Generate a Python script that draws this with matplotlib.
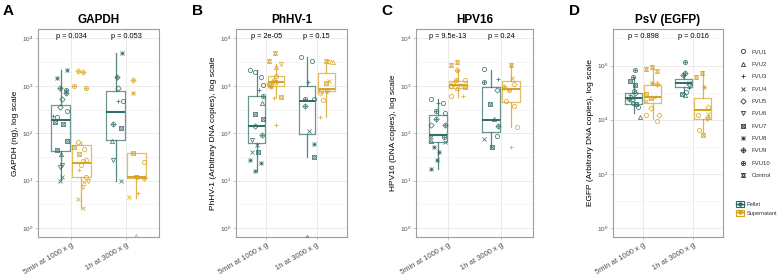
import matplotlib
matplotlib.use("Agg")
import matplotlib.pyplot as plt
from matplotlib.lines import Line2D
from matplotlib.patches import Rectangle
from matplotlib.legend_handler import HandlerTuple
from matplotlib.ticker import FixedLocator, NullFormatter
import matplotlib.transforms as mtransforms

plt.rcParams['font.family'] = ['Liberation Sans', 'DejaVu Sans']

# ---- data ----
categories = ["5min at 1000 x g", "1h at 3000 x g"]
fractions = ["Pellet", "Supernatant"]
samples = ["FVU1", "FVU2", "FVU3", "FVU4", "FVU5", "FVU6", "FVU7",
           "FVU8", "FVU9", "FVU10", "Control"]

# GAPDH (ng)
gapdh_pel_5min = [("FVU8", 2200), ("FVU8", 1500), ("FVU9", 900), ("FVU10", 800), ("FVU9", 700),
                  ("FVU5", 540), ("FVU5", 350), ("FVU1", 300), ("FVU1", 225), ("FVU3", 230),
                  ("FVU7", 170), ("FVU7", 155), ("FVU7", 70), ("FVU7", 44), ("FVU2", 37),
                  ("FVU6", 21), ("FVU6", 19), ("FVU4", 12), ("FVU4", 10)]
gapdh_sup_5min = [("FVU9", 2100), ("FVU9", 2000), ("FVU10", 1000), ("FVU10", 900), ("FVU5", 64),
                  ("FVU7", 52), ("FVU1", 47), ("FVU7", 37), ("FVU5", 27), ("FVU1", 26),
                  ("FVU1", 21), ("FVU3", 17), ("FVU1", 12), ("FVU6", 10), ("FVU4", 9.5),
                  ("FVU6", 7.5), ("FVU4", 4.1), ("FVU4", 2.7)]
gapdh_pel_1h = [("FVU8", 5000), ("FVU9", 1550), ("FVU5", 920), ("FVU1", 470), ("FVU3", 480),
                ("FVU9", 160), ("FVU7", 130), ("FVU2", 67), ("FVU6", 27), ("FVU4", 10)]
gapdh_sup_1h = [("FVU9", 1300), ("FVU8", 710), ("FVU7", 39), ("FVU1", 25), ("FVU1", 12.2),
                ("FVU6", 12), ("FVU9", 11.5), ("FVU3", 5.5), ("FVU4", 4.6), ("FVU2", 0.68)]
# box stats: whisker low, q1, median, q3, whisker high
gapdh_box = [[10.4, 43, 193, 389, 2200], [2.7, 12.2, 23.4, 57, 64],
             [10, 73, 280, 767, 5000], [4.2, 11.4, 11.8, 38, 39]]
gapdh_p = ["p = 0.034", "p = 0.053"]

# PhHV-1
phhv_pel_5min = [("FVU1", 2200), ("FVU1", 1550), ("FVU1", 2000), ("FVU1", 1050), ("FVU3", 800),
                 ("FVU10", 600), ("FVU2", 440), ("FVU7", 250), ("FVU7", 200), ("FVU5", 140),
                 ("FVU9", 93), ("FVU6", 73), ("FVU4", 57), ("FVU4", 41), ("FVU7", 41),
                 ("FVU8", 27), ("FVU8", 24), ("FVU8", 15.6)]
phhv_sup_5min = [("Control", 5000), ("Control", 3300), ("FVU6", 2950), ("FVU2", 2550), ("FVU1", 1650),
                 ("FVU9", 1300), ("FVU10", 1200), ("FVU5", 1100), ("FVU4", 1000), ("FVU8", 950),
                 ("FVU7", 1100), ("FVU3", 560), ("FVU7", 570), ("FVU3", 146)]
phhv_pel_1h = [("FVU1", 4100), ("FVU1", 3400), ("FVU3", 1200), ("FVU1", 530), ("FVU10", 530),
               ("FVU9", 370), ("FVU4", 110), ("FVU8", 59), ("FVU7", 32), ("FVU2", 0.65)]
phhv_sup_1h = [("Control", 3400), ("FVU6", 3200), ("FVU2", 3150), ("FVU4", 1250), ("FVU7", 1170),
               ("FVU1", 770), ("FVU10", 770), ("FVU5", 720), ("FVU1", 510), ("FVU3", 225)]
phhv_box = [[15.6, 62, 144, 600, 2130], [590, 980, 1230, 1650, 2950],
            [32, 98, 490, 1000, 4150], [225, 770, 860, 1880, 3200]]
phhv_p = ["p = 2e-05", "p = 0.15"]

# HPV16
hpv_pel_5min = [("FVU1", 530), ("FVU1", 440), ("FVU3", 440), ("FVU1", 270), ("FVU10", 290),
                ("FVU9", 200), ("FVU9", 150), ("FVU5", 150), ("FVU4", 85), ("FVU10", 85),
                ("FVU2", 70), ("FVU4", 65), ("FVU8", 52), ("FVU8", 41), ("FVU8", 27), ("FVU8", 17.7)]
hpv_sup_5min = [("Control", 3200), ("Control", 2700), ("FVU9", 2200), ("FVU1", 1300), ("FVU10", 1300),
                ("FVU1", 1100), ("FVU4", 1050), ("FVU5", 1000), ("FVU7", 950), ("FVU2", 900),
                ("FVU3", 600), ("FVU1", 600)]
hpv_pel_1h = [("FVU1", 2300), ("FVU3", 1400), ("FVU10", 1230), ("FVU5", 800), ("FVU7", 420),
              ("FVU2", 200), ("FVU9", 140), ("FVU1", 86), ("FVU4", 77), ("FVU7", 50)]
hpv_sup_1h = [("Control", 2800), ("FVU4", 1500), ("FVU5", 1100), ("FVU9", 950), ("FVU10", 800),
              ("FVU1", 470), ("FVU1", 380), ("FVU1", 135), ("FVU3", 52)]
hpv_box = [[17.7, 65, 93, 238, 536], [590, 910, 1060, 1290, 2200],
           [50, 104, 186, 950, 2200], [137, 455, 860, 1250, 2800]]
hpv_p = ["p = 9.5e-13", "p = 0.24"]

# PsV (EGFP)
egfp_pel_5min = [("FVU10", 680000), ("FVU10", 380000), ("FVU7", 260000), ("FVU7", 190000),
                 ("FVU1", 120000), ("FVU5", 95000), ("FVU3", 80000), ("FVU4", 70000),
                 ("FVU9", 60000), ("FVU5", 55000), ("FVU1", 40000), ("FVU7", 38000),
                 ("FVU1", 30000), ("FVU2", 13000)]
egfp_sup_5min = [("Control", 900000), ("Control", 750000), ("Control", 650000), ("FVU8", 220000),
                 ("FVU9", 200000), ("FVU7", 90000), ("FVU4", 70000), ("FVU7", 65000),
                 ("FVU4", 50000), ("FVU5", 27000), ("FVU5", 15000), ("FVU1", 15000), ("FVU1", 9000)]
egfp_pel_1h = [("FVU10", 1300000), ("FVU9", 550000), ("FVU9", 450000), ("FVU5", 200000),
               ("FVU4", 220000), ("FVU3", 150000), ("FVU1", 110000), ("FVU7", 86000), ("FVU2", 80000)]
egfp_sup_1h = [("Control", 520000), ("Control", 380000), ("FVU8", 160000), ("FVU5", 30000),
               ("FVU4", 16000), ("FVU1", 15000), ("FVU2", 13000), ("FVU6", 10500),
               ("FVU1", 4200), ("FVU7", 2700)]
egfp_box = [[18000, 38000, 62000, 98000, 380000], [10500, 40000, 70000, 190000, 900000],
            [95000, 162000, 230000, 310000, 450000], [3200, 10500, 22500, 66000, 620000]]
egfp_p = ["p = 0.898", "p = 0.016"]

# ---- style ----
TEAL = '#2F6B66'
GOLD = '#D8A21E'
colors = [TEAL, GOLD]
# ggplot-like shapes built from matplotlib markers (marker, size factor)
SHAPES = {
    "FVU1": [("o", 1.0)],
    "FVU2": [("^", 1.0)],
    "FVU3": [("+", 1.2)],
    "FVU4": [("x", 1.0)],
    "FVU5": [("D", 0.9)],
    "FVU6": [("v", 1.0)],
    "FVU7": [("s", 1.0), ("x", 0.9)],
    "FVU8": [("+", 1.1), ("x", 0.9)],
    "FVU9": [("D", 0.9), ("+", 1.1)],
    "FVU10": [("o", 1.0), ("+", 1.1)],
    "Control": [("^", 1.0), ("v", 1.0)],
}
MS = 3.0
JIT = [-0.13, 0.09, -0.04, 0.13, 0.01, -0.1, 0.05, 0.11, -0.07, 0.03, -0.01]
DODGE = 0.19
BOXW = 0.33


def draw_points(ax, pos, pts, color):
    for k, (s, v) in enumerate(pts):
        x = pos + JIT[(samples.index(s) + k) % len(JIT)]
        for m, f in SHAPES[s]:
            ax.plot(x, v, ls='none', marker=m, ms=MS * f, mfc='none', mec=color,
                    mew=0.6, alpha=0.85, zorder=3)


def draw_panel(ax, title, ylabel, groups, boxes, pvals, ylim, majors, minors):
    k = 0
    for ci in range(2):
        for fi in range(2):
            pos = ci + 1 + (DODGE if fi else -DODGE)
            st = boxes[k]
            ax.bxp([dict(whislo=st[0], q1=st[1], med=st[2], q3=st[3], whishi=st[4])],
                   positions=[pos], widths=BOXW, showcaps=False, showfliers=False,
                   boxprops=dict(color=colors[fi], lw=0.9, alpha=0.7),
                   whiskerprops=dict(color=colors[fi], lw=0.9, alpha=0.8),
                   medianprops=dict(color=colors[fi], lw=1.4), manage_ticks=False,
                   zorder=2)
            draw_points(ax, pos, groups[k], colors[fi])
            k += 1
    ax.set_yscale('log')
    ax.set_ylim(*ylim)
    ax.set_xlim(0.4, 2.6)
    ax.yaxis.set_major_locator(FixedLocator(majors))
    ax.yaxis.set_minor_locator(FixedLocator(minors))
    ax.yaxis.set_minor_formatter(NullFormatter())
    ax.set_xticks([1, 2])
    ax.set_xticklabels(categories, rotation=30, ha='right', rotation_mode='anchor',
                       fontsize=5.5, color='#4D4D4D')
    ax.tick_params(axis='y', which='major', labelsize=4.6, labelcolor='#4D4D4D',
                   length=2, width=0.5, color='#B3B3B3', pad=1.5)
    ax.tick_params(axis='y', which='minor', length=0)
    ax.tick_params(axis='x', length=2, width=0.5, color='#B3B3B3', pad=1.5)
    ax.grid(True, which='major', color='#E3E3E3', lw=0.5, zorder=0)
    ax.grid(True, which='minor', axis='y', color='#EFEFEF', lw=0.4, zorder=0)
    ax.set_axisbelow(True)
    for sp in ax.spines.values():
        sp.set_color('#9E9E9E')
        sp.set_linewidth(0.8)
    ax.set_title(title, fontsize=8.5, fontweight='bold', pad=4)
    ax.set_ylabel(ylabel, fontsize=6, labelpad=2)
    trans = mtransforms.blended_transform_factory(ax.transData, ax.transAxes)
    for ci, p in enumerate(pvals):
        ax.text(ci + 1, 0.965, p, transform=trans, ha='center', va='center', fontsize=5.3)


fig = plt.figure(figsize=(7.84, 2.78), dpi=100)
H = 278.0
W = 784.0


def add_axes(x0, x1, y0=29, y1=237):
    return fig.add_axes([x0 / W, (H - y1) / H, (x1 - x0) / W, (y1 - y0) / H])


axA = add_axes(38, 159)
axB = add_axes(236, 347)
axC = add_axes(416, 533)
axD = add_axes(613, 723)

dec = [1, 10, 100, 1000, 10000]
half = [10 ** (k + 0.5) for k in range(-1, 5)]
draw_panel(axA, "GAPDH", "GAPDH (ng), log scale",
           [gapdh_pel_5min, gapdh_sup_5min, gapdh_pel_1h, gapdh_sup_1h],
           gapdh_box, gapdh_p, (10 ** -0.19, 10 ** 4.2), dec, half)
draw_panel(axB, "PhHV-1", "PhHV-1 (Arbitrary DNA copies), log scale",
           [phhv_pel_5min, phhv_sup_5min, phhv_pel_1h, phhv_sup_1h],
           phhv_box, phhv_p, (10 ** -0.19, 10 ** 4.2), dec, half)
draw_panel(axC, "HPV16", "HPV16 (DNA copies), log scale",
           [hpv_pel_5min, hpv_sup_5min, hpv_pel_1h, hpv_sup_1h],
           hpv_box, hpv_p, (10 ** -0.19, 10 ** 4.2), dec, half)
draw_panel(axD, "PsV (EGFP)", "EGFP (Arbitrary DNA copies), log scale",
           [egfp_pel_5min, egfp_sup_5min, egfp_pel_1h, egfp_sup_1h],
           egfp_box, egfp_p, (10 ** -0.33, 10 ** 7.35), [1, 1e2, 1e4, 1e6], [10, 1e3, 1e5, 1e7])

for lab, x in zip("ABCD", [3, 192, 381, 569]):
    fig.text(x / W, 1 - 4 / H, lab, fontsize=11, fontweight='bold', va='top', ha='left')

# shape legend
shape_handles = []
for s in samples:
    parts = tuple(Line2D([], [], ls='none', marker=m, ms=MS * f, mfc='none', mec='#333333', mew=0.6)
                  for m, f in SHAPES[s])
    shape_handles.append(parts)
leg1 = fig.legend(shape_handles, samples, loc='upper left', bbox_to_anchor=(734 / W, 1 - 44 / H),
                  frameon=False, fontsize=4.3, handlelength=1.2, handletextpad=0.8,
                  labelspacing=1.2, handler_map={tuple: HandlerTuple(ndivide=1)})

# fill legend
fill_handles = []
for c in colors:
    fill_handles.append((Rectangle((0, 0), 1, 1, fc='none', ec=c, lw=0.8),
                         Line2D([], [], color=c, lw=1.0, marker='o', ms=2.2)))
leg2 = fig.legend(fill_handles, fractions, loc='upper left', bbox_to_anchor=(731 / W, 1 - 196 / H),
                  frameon=False, fontsize=4.1, handlelength=1.3, handleheight=1.2,
                  handletextpad=0.6, labelspacing=0.5, handler_map={tuple: HandlerTuple(ndivide=1)})
for t in leg1.get_texts() + leg2.get_texts():
    t.set_color('#333333')

fig.savefig("out.png", dpi=100)
